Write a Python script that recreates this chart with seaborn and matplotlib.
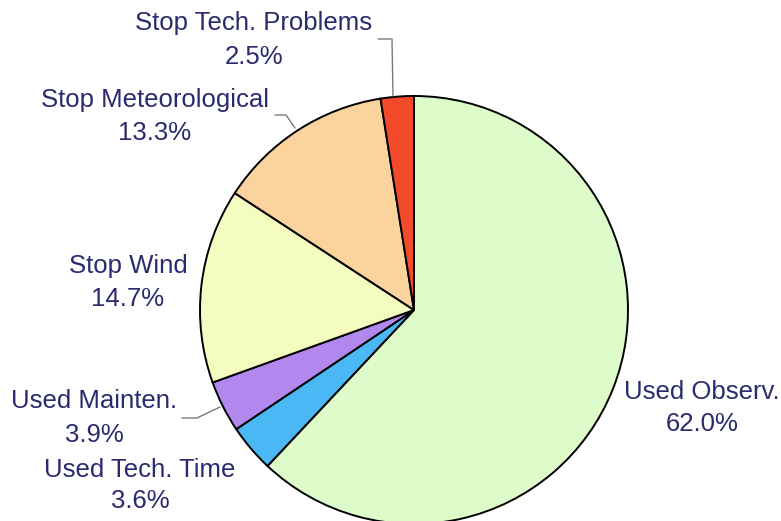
import matplotlib
matplotlib.use("Agg")
import matplotlib.pyplot as plt
import seaborn as sns

# slices, clockwise from 12 o'clock
labels = ["Used Observ.", "Used Tech. Time", "Used Mainten.", "Stop Wind",
          "Stop Meteorological", "Stop Tech. Problems"]
shares = [62.0, 3.6, 3.9, 14.7, 13.3, 2.5]
colors = ["#ddfcc9", "#4ab8f4", "#b388ee", "#f5fcc0", "#fad49c", "#f24a2a"]

sns.set_theme(style="white")
plt.rcParams["font.family"] = ["Liberation Sans", "DejaVu Sans"]

W, H = 781, 521
fig = plt.figure(figsize=(W / 100, H / 100), dpi=100)
ax = fig.add_axes([0, 0, 1, 1])

cx, cy, r = 414, H - 310, 214
ax.pie(shares, colors=colors, startangle=90, counterclock=False,
       center=(cx, cy), radius=r,
       wedgeprops=dict(edgecolor="black", linewidth=1.4))
ax.set_xlim(0, W)
ax.set_ylim(0, H)
ax.set_aspect("equal")
ax.axis("off")

txt = "#2b2a6e"
fs = 18.5
# label positions in pixels (x, y of first line, y of second line)
label_pos = {
    "Used Observ.": (702, 392, 424),
    "Used Tech. Time": (140, 470, 501),
    "Used Mainten.": (94, 401, 435),
    "Stop Wind": (128, 266, 299),
    "Stop Meteorological": (155, 100, 133),
    "Stop Tech. Problems": (254, 23, 57),
}
for name, val in zip(labels, shares):
    x, y1, y2 = label_pos[name]
    ax.text(x, H - y1, name, ha="center", va="center", fontsize=fs, color=txt)
    ax.text(x, H - y2, f"{val:.1f}%", ha="center", va="center", fontsize=fs, color=txt)

# leader lines
gray = "#7a7a7a"
ax.plot([378, 392, 393], [H - 39, H - 39, H - 96], color=gray, lw=1)
ax.plot([275, 286, 295], [H - 115, H - 115, H - 128], color=gray, lw=1)
ax.plot([182, 197, 220], [H - 418, H - 418, H - 407], color=gray, lw=1)

fig.savefig("out.png", dpi=100)
